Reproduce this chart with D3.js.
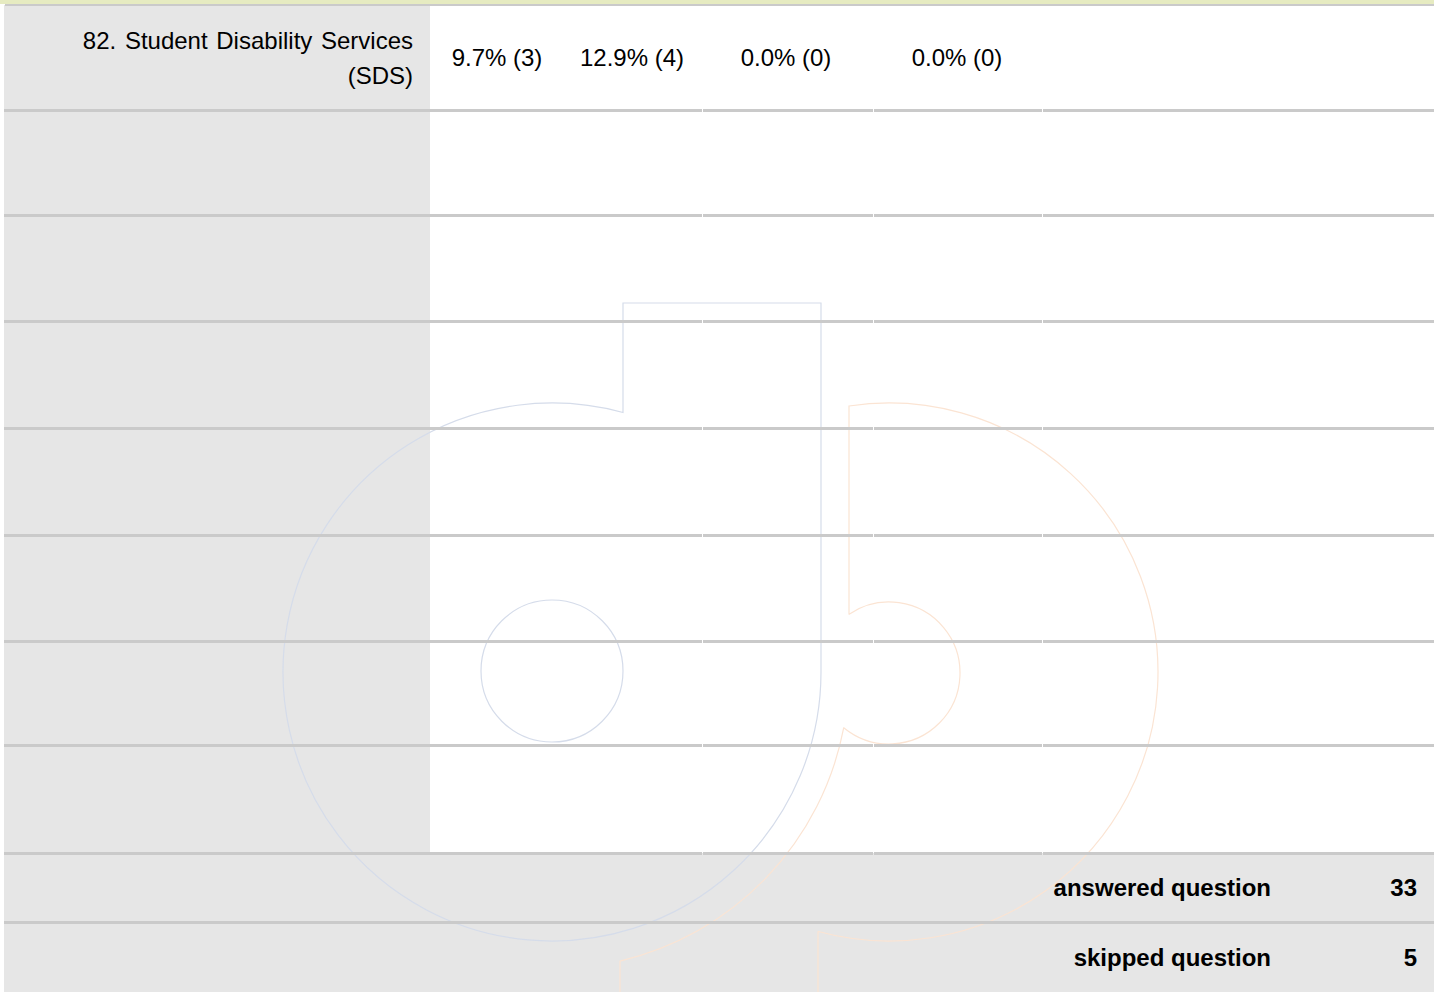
<!DOCTYPE html>
<html>
<head>
<meta charset="utf-8">
<script src="https://cdn.jsdelivr.net/npm/d3@7"></script>
<style>
  body { margin: 0; background: #fff; }
  svg { display: block; }
  text { font-family: "Liberation Sans", Arial, sans-serif; fill: #000; }
</style>
</head>
<body>
<svg width="1440" height="992"></svg>
<script>
// question label (two lines as in the table cell)
const labelLines = ['82. Student Disability Services', '(SDS)'];
// answer columns for this row
const percents = [9.7, 12.9, 0.0, 0.0];
const counts = [3, 4, 0, 0];
// summary rows
const summaryLabels = ['answered question', 'skipped question'];
const summaryCounts = [33, 5];

const svg = d3.select('svg');
const tableLeft = 4, tableRight = 1434, labelRight = 430;

// row edges of the (mostly empty) question rows
const rowEdges = [5, 110, 215, 321, 428, 535, 641, 745, 853];
const summaryEdges = [853, 922, 1000];

// column positions of the answer values
const xVal = d3.scaleOrdinal().domain(d3.range(percents.length)).range([497, 632, 786, 957]);
const ySum = d3.scaleOrdinal().domain(d3.range(summaryLabels.length)).range([896, 966]);
const fmt = d3.format('.1f');

// header strip
svg.append('rect')
    .attr('x', 0).attr('y', 0).attr('width', tableRight).attr('height', 4)
    .attr('fill', '#e6ebc1');

// question rows
const rows = d3.range(rowEdges.length - 1);
svg.selectAll('.labelcell').data(rows).enter().append('rect')
    .attr('class', 'labelcell')
    .attr('x', tableLeft)
    .attr('y', function (i) { return rowEdges[i]; })
    .attr('width', labelRight - tableLeft)
    .attr('height', function (i) { return rowEdges[i + 1] - rowEdges[i]; })
    .attr('fill', '#e6e6e6');

// summary rows
svg.selectAll('.sumcell').data(summaryLabels).enter().append('rect')
    .attr('class', 'sumcell')
    .attr('x', tableLeft)
    .attr('y', function (d, i) { return summaryEdges[i]; })
    .attr('width', tableRight - tableLeft)
    .attr('height', function (d, i) { return summaryEdges[i + 1] - summaryEdges[i]; })
    .attr('fill', '#e6e6e6');

// watermark logo
const wm = svg.append('g').attr('fill', 'none').attr('stroke-width', 1.2);

let p = d3.path();
p.moveTo(623, 303);
p.lineTo(821, 303);
p.lineTo(821, 672);
p.arc(552, 672, 269, 0, 2 * Math.PI - Math.acos(71 / 269), false);
p.closePath();
wm.append('path').attr('d', p.toString()).attr('stroke', '#d5dcea');
wm.append('circle').attr('cx', 552).attr('cy', 671).attr('r', 71).attr('stroke', '#d5dcea');

p = d3.path();
p.moveTo(849, 406);
p.lineTo(849, 614);
p.arc(889, 673, 71, Math.atan2(614 - 673, 849 - 889), Math.atan2(728 - 673, 844 - 889), false);
p.arc(552, 672, 297, Math.atan2(728 - 672, 844 - 552), Math.atan2(289, 68), false);
p.lineTo(620, 1041);
p.lineTo(818, 1041);
p.lineTo(818, 932.5);
p.arc(889, 672, 269, Math.atan2(260.5, -71), Math.atan2(-266, -40), true);
p.closePath();
wm.append('path').attr('d', p.toString()).attr('stroke', '#fbe4d3');

// row rules, with the small gaps at the column joints
const segs = [[tableLeft, 702], [703, 873], [874, 1042], [1043, tableRight]];
const ruleY = rowEdges.slice(1);
ruleY.forEach(function (y) {
    svg.selectAll(null).data(segs).enter().append('rect')
        .attr('x', function (s) { return s[0]; })
        .attr('y', y - 1)
        .attr('width', function (s) { return s[1] - s[0]; })
        .attr('height', 3)
        .attr('fill', '#cacaca');
});
svg.append('rect').attr('x', 5).attr('y', 4).attr('width', tableRight - 5).attr('height', 2).attr('fill', '#cacaca');
svg.append('rect').attr('x', tableLeft).attr('y', 921).attr('width', tableRight - tableLeft).attr('height', 3).attr('fill', '#cacaca');

// label text
svg.append('text')
    .attr('text-anchor', 'end')
    .attr('font-size', 24)
    .selectAll('tspan').data(labelLines).enter().append('tspan')
    .attr('x', 413)
    .attr('y', function (d, i) { return 49 + i * 35; })
    .attr('word-spacing', function (d, i) { return i === 0 ? 2 : 0; })
    .text(function (d) { return d; });

// answer values
svg.selectAll('.val').data(percents).enter().append('text')
    .attr('class', 'val')
    .attr('x', function (d, i) { return xVal(i); })
    .attr('y', 66)
    .attr('text-anchor', 'middle')
    .attr('font-size', 24)
    .text(function (d, i) { return fmt(d) + '% (' + counts[i] + ')'; });

// summary
svg.selectAll('.sumlab').data(summaryLabels).enter().append('text')
    .attr('class', 'sumlab')
    .attr('x', 1271)
    .attr('y', function (d, i) { return ySum(i); })
    .attr('text-anchor', 'end')
    .attr('font-size', 24)
    .attr('font-weight', 'bold')
    .text(function (d) { return d; });

svg.selectAll('.sumnum').data(summaryCounts).enter().append('text')
    .attr('class', 'sumnum')
    .attr('x', 1417)
    .attr('y', function (d, i) { return ySum(i); })
    .attr('text-anchor', 'end')
    .attr('font-size', 24)
    .attr('font-weight', 'bold')
    .text(function (d) { return d; });
</script>
</body>
</html>
